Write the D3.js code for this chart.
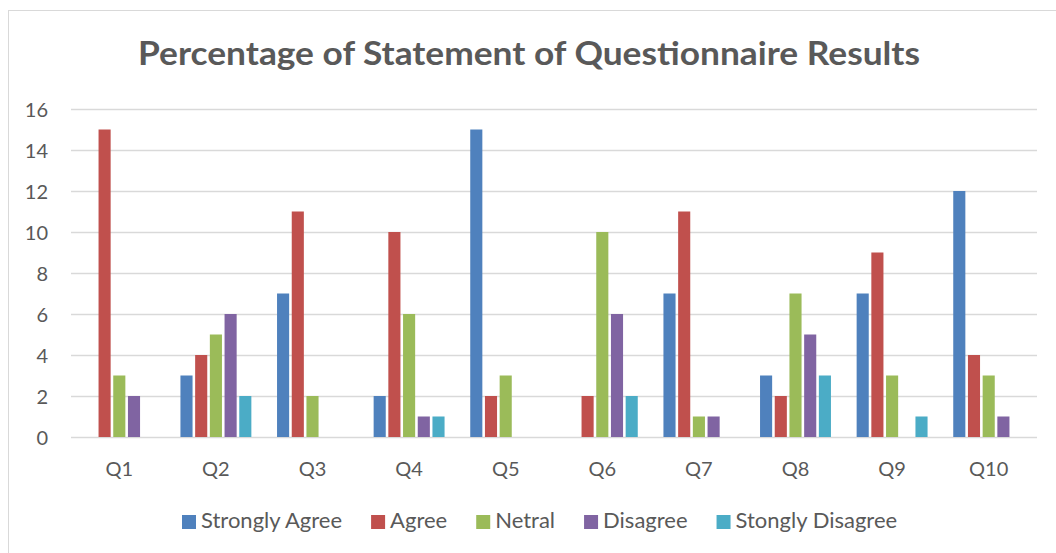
<!DOCTYPE html>
<html>
<head>
<meta charset="utf-8">
<script src="https://cdn.jsdelivr.net/npm/d3@7"></script>
<style>
  body { margin: 0; background: #fff; }
  text { font-family: Lato, "Open Sans", sans-serif; fill: #595959; }
</style>
</head>
<body>
<div class="chart"></div>
<script>
// data
var categories = ["Q1", "Q2", "Q3", "Q4", "Q5", "Q6", "Q7", "Q8", "Q9", "Q10"];
var seriesNames = ["Strongly Agree", "Agree", "Netral", "Disagree", "Stongly Disagree"];
var stronglyAgree = [0, 3, 7, 2, 15, 0, 7, 3, 7, 12];
var agree = [15, 4, 11, 10, 2, 2, 11, 2, 9, 4];
var netral = [3, 5, 2, 6, 3, 10, 1, 7, 3, 3];
var disagree = [2, 6, 0, 1, 0, 6, 1, 5, 0, 1];
var stonglyDisagree = [0, 2, 0, 1, 0, 2, 0, 3, 1, 0];
var yTicks = [0, 2, 4, 6, 8, 10, 12, 14, 16];
var colors = ["#4F81BD", "#C0504D", "#9BBB59", "#8064A2", "#4BACC6"];

var seriesValues = [stronglyAgree, agree, netral, disagree, stonglyDisagree];

var svgWidth = 1056, svgHeight = 553;
var margin = {top: 109, bottom: 116, right: 19, left: 71};
var width = svgWidth - margin.left - margin.right;
var height = svgHeight - margin.top - margin.bottom;

var svg = d3.select(".chart")
  .append("svg")
  .attr("width", svgWidth)
  .attr("height", svgHeight);

// chart area border
svg.append("rect")
  .attr("x", 8.5).attr("y", 10.5)
  .attr("width", 1100).attr("height", 600)
  .attr("fill", "none")
  .attr("stroke", "#D9D9D9");

// title
svg.append("text")
  .attr("x", 529).attr("y", 65)
  .attr("text-anchor", "middle")
  .attr("textLength", 782)
  .attr("lengthAdjust", "spacingAndGlyphs")
  .style("font-size", "32px")
  .style("font-weight", "bold")
  .text("Percentage of Statement of Questionnaire Results");

var chartGroup = svg.append("g")
  .attr("transform", `translate(${margin.left},${margin.top})`);

var x0 = d3.scaleBand().domain(categories).range([0, width]);
var pitch = x0.bandwidth() / 6.57;
var x1 = d3.scaleBand().domain(seriesNames)
  .range([-pitch * 2.5, pitch * 2.5]);
var y = d3.scaleLinear().domain([0, 16]).range([height, 0]);

// gridlines
chartGroup.append("g")
  .selectAll("line")
  .data(yTicks)
  .enter()
  .append("line")
  .attr("x1", 0).attr("x2", width)
  .attr("y1", d => Math.round(y(d)) + 0.5)
  .attr("y2", d => Math.round(y(d)) + 0.5)
  .attr("stroke", "#D9D9D9")
  .attr("stroke-width", 1.5);

// y axis labels
var yAxis = d3.axisLeft(y).tickValues(yTicks).tickSize(0).tickPadding(23);
var yg = chartGroup.append("g").call(yAxis);
yg.select(".domain").remove();
yg.selectAll("text").style("font-size", "20px").style("font-family", null).attr("dy", "0.36em");

// x axis labels
var xAxis = d3.axisBottom(x0).tickSize(0).tickPadding(25);
var xg = chartGroup.append("g")
  .attr("transform", `translate(0,${height})`)
  .call(xAxis);
xg.select(".domain").remove();
xg.selectAll("text").style("font-size", "20px").style("font-family", null);

// bars
var barGroups = chartGroup.selectAll("g.series")
  .data(seriesNames)
  .enter()
  .append("g")
  .attr("class", "series")
  .attr("fill", (d, i) => colors[i]);

barGroups.selectAll("rect")
  .data((name, i) => seriesValues[i].map((v, j) => ({name: name, cat: categories[j], value: v})).filter(d => d.value > 0))
  .enter()
  .append("rect")
  .attr("x", d => x0(d.cat) + x0.bandwidth() / 2 + x1(d.name) + 1.3)
  .attr("width", x1.bandwidth() - 2.6)
  .attr("y", d => y(d.value))
  .attr("height", d => y(0) - y(d.value));

// legend
var legend = svg.append("g");
var lx = 182;
var items = legend.selectAll("g")
  .data(seriesNames)
  .enter()
  .append("g");
items.append("rect")
  .attr("width", 14).attr("height", 14)
  .attr("y", 515)
  .attr("fill", (d, i) => colors[i]);
items.append("text")
  .attr("x", 19).attr("y", 528)
  .style("font-size", "22px")
  .text(d => d);
items.each(function(){
  d3.select(this).attr("transform", `translate(${lx},0)`);
  lx += 19 + this.querySelector("text").getComputedTextLength() + 29;
});
</script>
</body>
</html>
